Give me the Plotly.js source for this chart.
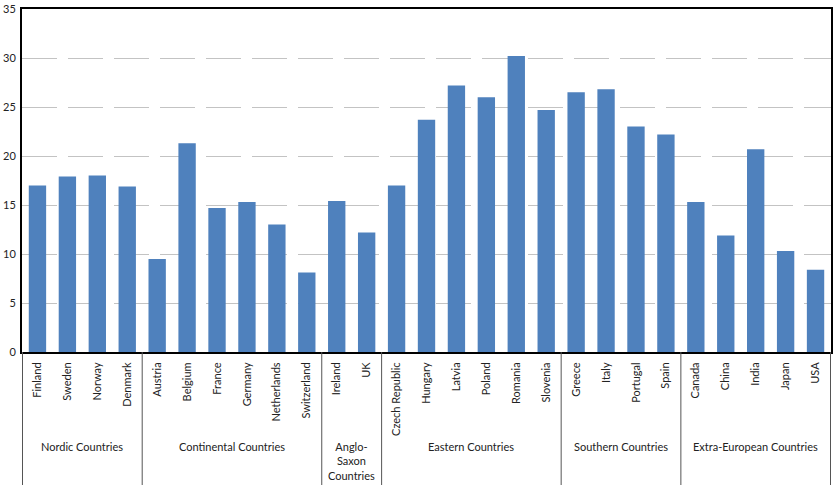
<!DOCTYPE html>
<html>
<head>
<meta charset="utf-8">
<script src="https://cdn.plot.ly/plotly-3.0.1.min.js"></script>
<style>
  html, body { margin: 0; padding: 0; background: #fff; }
  #chart { width: 838px; height: 496px; }
</style>
</head>
<body>
<div id="chart"></div>
<script>
// Countries, in plotting order, grouped by welfare regime
const countries = [
  'Finland', 'Sweden', 'Norway', 'Denmark',
  'Austria', 'Belgium', 'France', 'Germany', 'Netherlands', 'Switzerland',
  'Ireland', 'UK',
  'Czech Republic', 'Hungary', 'Latvia', 'Poland', 'Romania', 'Slovenia',
  'Greece', 'Italy', 'Portugal', 'Spain',
  'Canada', 'China', 'India', 'Japan', 'USA'
];
const values = [
  17.0, 17.9, 18.0, 16.9,
  9.5, 21.3, 14.7, 15.3, 13.0, 8.1,
  15.4, 12.2,
  17.0, 23.7, 27.2, 26.0, 30.2, 24.7,
  26.5, 26.8, 23.0, 22.2,
  15.3, 11.9, 20.7, 10.3, 8.4
];
const groupNames = [
  'Nordic Countries', 'Continental Countries', 'Anglo-<br>Saxon<br>Countries',
  'Eastern Countries', 'Southern Countries', 'Extra-European Countries'
];
const groupSizes = [4, 6, 2, 6, 4, 5];
const yTicks = [0, 5, 10, 15, 20, 25, 30, 35];

const FONT = 'Lato, "Liberation Sans", sans-serif';

// group labels and divider lines beneath the category axis
const annotations = [];
const shapes = [];
let start = 0;
shapes.push({
  type: 'line', xref: 'x', yref: 'paper', ysizemode: 'pixel', yanchor: 0,
  x0: -0.5, x1: -0.5, y0: 0, y1: -133,
  line: { color: '#555', width: 1 }
});
groupSizes.forEach((n, i) => {
  const end = start + n;
  annotations.push({
    xref: 'x', yref: 'paper', x: (start + end - 1) / 2, y: 0,
    yanchor: 'top', yshift: -86, showarrow: false,
    text: groupNames[i], align: 'center',
    font: { family: FONT, size: 11, color: '#222' }
  });
  shapes.push({
    type: 'line', xref: 'x', yref: 'paper', ysizemode: 'pixel', yanchor: 0,
    x0: end - 0.5, x1: end - 0.5, y0: 0, y1: -133,
    line: { color: '#555', width: 1 }
  });
  start = end;
});

const trace = {
  type: 'bar',
  x: countries,
  y: values,
  marker: { color: '#4f81bd', line: { width: 0 } },
  hoverinfo: 'x+y'
};

const layout = {
  width: 838, height: 496,
  margin: { l: 22, r: 7, t: 9, b: 144 },
  paper_bgcolor: '#fff', plot_bgcolor: '#fff',
  bargap: 0.42,
  showlegend: false,
  font: { family: FONT, size: 11, color: '#222' },
  xaxis: {
    type: 'category',
    tickangle: -90,
    tickfont: { family: FONT, size: 11, color: '#222' },
    showline: true, linecolor: '#000', linewidth: 2, mirror: true,
    showgrid: false, ticks: '', ticklabelstandoff: 4
  },
  yaxis: {
    range: [0, 35],
    tickvals: yTicks,
    ticktext: yTicks.map(String),
    tickfont: { family: FONT, size: 11, color: '#222' },
    showline: true, linecolor: '#000', linewidth: 2, mirror: true,
    showgrid: true, gridcolor: '#c3c3c3', gridwidth: 1, griddash: '35px,11px',
    zeroline: false, ticks: '', ticklabelstandoff: 2
  },
  annotations: annotations,
  shapes: shapes
};

Plotly.newPlot('chart', [trace], layout, { displayModeBar: false, staticPlot: true });
</script>
</body>
</html>
